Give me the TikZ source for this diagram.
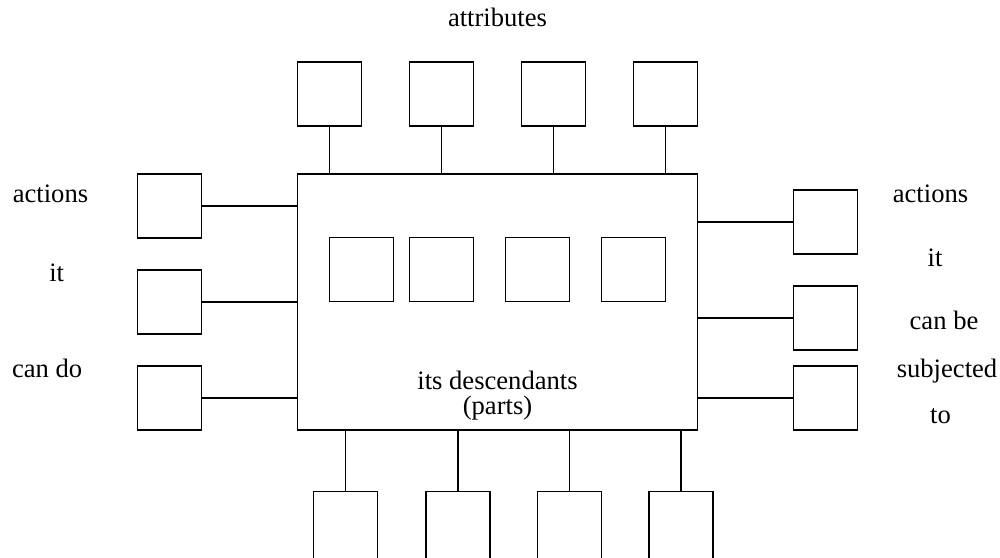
\documentclass[tikz,border=0pt]{standalone}
\usepackage{fontspec}
\setmainfont{Liberation Serif}
\begin{document}
\begin{tikzpicture}[x=1pt,y=-1pt,
  sq/.style={draw,line width=1.5pt,minimum width=64pt,minimum height=64pt,inner sep=0pt,outer sep=0pt},
  tall/.style={draw,line width=1.5pt,minimum width=64pt,minimum height=80pt,inner sep=0pt,outer sep=0pt,anchor=north},
  wire/.style={line width=1.5pt},
  lbl/.style={inner sep=0pt,anchor=base,font=\fontsize{26.6}{30}\selectfont}]
\useasboundingbox (0,0) rectangle (1000,557);
\clip (0,0) rectangle (1000,557);
% main box
\node[draw,line width=1.5pt,minimum width=400pt,minimum height=256pt,inner sep=0pt,outer sep=0pt] (main) at (497.7,302) {};
% top attribute boxes
\node[sq] (t1) at (329.7,94) {};
\node[sq] (t2) at (441.7,94) {};
\node[sq] (t3) at (553.7,94) {};
\node[sq] (t4) at (665.7,94) {};
% left boxes
\node[sq] (l1) at (169.5,206) {};
\node[sq] (l2) at (169.5,302) {};
\node[sq] (l3) at (169.5,398) {};
% right boxes
\node[sq] (r1) at (825.5,222) {};
\node[sq] (r2) at (825.5,318) {};
\node[sq] (r3) at (825.5,398) {};
% inner boxes
\node[sq] (i1) at (361.5,269.7) {};
\node[sq] (i2) at (441.5,269.7) {};
\node[sq] (i3) at (537.5,269.7) {};
\node[sq] (i4) at (633.5,269.7) {};
% bottom boxes
\node[tall] (b1) at (345.5,491.7) {};
\node[tall] (b2) at (457.8,491.7) {};
\node[tall] (b3) at (569.5,491.7) {};
\node[tall] (b4) at (681.2,491.7) {};
% connectors
\foreach \n in {t1,t2,t3,t4} \draw[wire] (\n.south) -- (\n.south |- main.north);
\foreach \n in {b1,b2,b3,b4} \draw[wire] (\n.north) -- (\n.north |- main.south);
\foreach \n in {l1,l2,l3} \draw[wire] (\n.east) -- (\n.east -| main.west);
\foreach \n in {r1,r2,r3} \draw[wire] (\n.west) -- (\n.west -| main.east);
% labels
\node[lbl] (tattr) at (497.5,26) {attributes};
\node[lbl] (la) at (50.5,202) {actions};
\node[lbl] (lb) at (56.7,281) {it};
\node[lbl] (lc) at (47.2,377) {can do};
\node[lbl] (ra) at (930.5,202) {actions};
\node[lbl] (rb) at (935,266) {it};
\node[lbl] (rc) at (944,329) {can be};
\node[lbl] (rd) at (947,377) {subjected};
\node[lbl] (re) at (940.5,423) {to};
\node[lbl] (ma) at (497.5,389) {its descendants};
\node[lbl] (mb) at (497.5,414) {(parts)};
\end{tikzpicture}
\end{document}
